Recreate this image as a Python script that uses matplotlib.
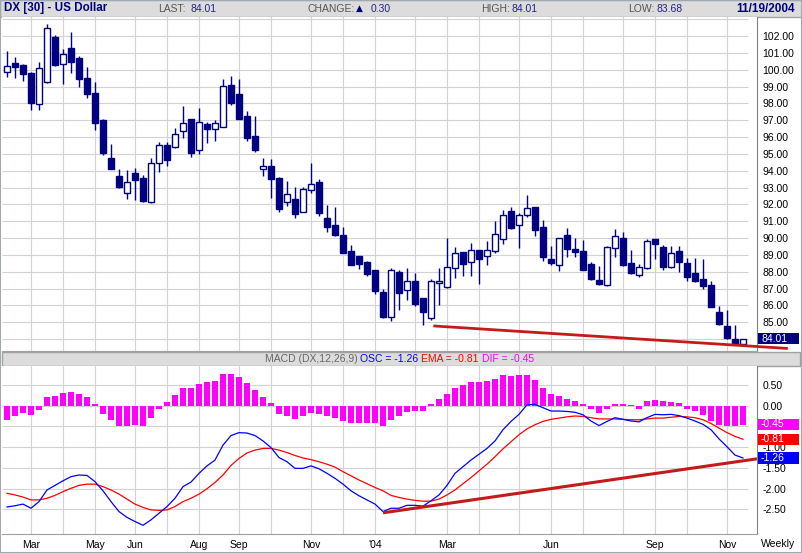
import matplotlib
matplotlib.use("Agg")
import matplotlib.pyplot as plt
from matplotlib.patches import Rectangle
import matplotlib.transforms as mtransforms
import numpy as np
import pandas as pd

plt.rcParams['font.family'] = ['Liberation Sans', 'DejaVu Sans']

# ---------------- data ----------------
dates = pd.date_range('2003-02-14', periods=93, freq='W-FRI')

opens = [99.85, 100.39, 100.27, 99.81, 97.95, 99.26, 101.95, 100.37, 101.30, 100.70,
         99.52, 98.62, 97.02, 94.76, 93.67, 92.66, 93.87, 93.57, 92.13, 94.44,
         95.53, 95.40, 96.35, 97.08, 95.22, 96.78, 96.50, 96.62, 99.10, 98.56,
         97.26, 96.07, 94.09, 94.27, 93.57, 92.13, 92.31, 91.57, 92.84, 93.34,
         91.20, 90.78, 90.19, 89.22, 88.94, 88.58, 88.11, 86.78, 85.30, 87.97,
         86.90, 87.45, 86.44, 85.24, 87.31, 87.08, 88.21, 89.18, 88.56, 89.28,
         88.92, 89.22, 89.95, 91.59, 90.76, 91.36, 91.85, 90.64, 88.76, 88.39,
         90.19, 89.35, 89.24, 88.48, 87.51, 87.20, 89.39, 89.99, 88.50, 87.83,
         88.21, 89.93, 89.45, 88.27, 89.22, 88.52, 87.91, 87.55, 87.24, 85.61,
         84.76, 84.01, 83.71]
highs = [101.12, 100.76, 100.35, 99.89, 100.45, 102.74, 102.09, 101.24, 102.25, 100.80,
         100.17, 99.28, 97.10, 95.59, 94.13, 94.03, 94.17, 93.73, 94.76, 95.69,
         95.71, 96.54, 97.85, 97.10, 97.73, 96.92, 97.02, 99.46, 99.63, 99.46,
         97.55, 97.26, 94.76, 94.70, 93.63, 93.40, 93.04, 93.04, 94.46, 93.51,
         91.97, 91.87, 90.66, 89.59, 88.96, 88.62, 88.13, 86.96, 88.22, 88.13,
         88.21, 87.91, 86.46, 87.57, 88.21, 89.99, 89.49, 89.20, 89.69, 89.30,
         89.81, 91.04, 91.67, 91.85, 91.49, 92.56, 91.87, 91.06, 89.53, 90.02,
         90.58, 89.99, 89.89, 88.56, 88.34, 89.55, 90.54, 90.35, 89.28, 88.44,
         89.93, 89.95, 89.59, 89.55, 89.55, 88.80, 88.84, 88.76, 87.45, 85.97,
         85.73, 84.84, 84.01]
lows = [99.57, 99.53, 99.36, 97.63, 97.63, 99.22, 100.23, 99.18, 99.83, 98.98,
        98.35, 96.45, 94.92, 94.10, 93.00, 92.35, 92.29, 92.17, 92.10, 93.91,
        94.31, 95.38, 95.97, 94.84, 95.02, 95.67, 95.79, 96.60, 97.91, 97.06,
        95.79, 95.14, 93.71, 92.40, 91.57, 91.93, 91.20, 91.53, 92.70, 91.34,
        90.36, 90.15, 89.10, 88.40, 88.17, 87.75, 86.68, 85.27, 85.10, 85.75,
        86.32, 85.97, 84.86, 85.12, 86.03, 87.06, 87.65, 87.77, 87.77, 87.29,
        88.42, 89.12, 89.67, 90.54, 89.43, 91.24, 90.15, 88.62, 88.42, 88.07,
        88.90, 88.90, 88.10, 87.51, 87.24, 87.18, 88.90, 88.36, 87.89, 87.71,
        88.19, 88.74, 88.11, 88.25, 88.01, 87.45, 87.41, 86.98, 85.91, 84.86,
        84.03, 83.65, 83.68]
closes = [100.23, 100.19, 99.77, 98.05, 100.09, 102.47, 100.31, 100.92, 100.49, 99.48,
          98.58, 96.84, 95.06, 94.13, 93.06, 93.34, 93.47, 92.19, 94.44, 95.53,
          94.66, 96.17, 96.82, 95.08, 96.90, 96.50, 96.82, 99.02, 98.03, 97.08,
          95.97, 95.26, 94.27, 93.49, 91.75, 92.60, 91.45, 92.90, 93.20, 91.51,
          90.68, 90.21, 89.12, 88.42, 88.48, 87.89, 86.88, 85.33, 88.10, 86.76,
          87.45, 86.11, 85.63, 87.43, 87.45, 88.27, 89.10, 88.48, 89.28, 88.78,
          89.28, 90.23, 91.36, 90.62, 91.36, 91.77, 90.48, 88.90, 88.54, 89.99,
          89.37, 89.16, 88.13, 87.57, 87.26, 89.45, 90.11, 88.40, 87.91, 88.27,
          89.81, 89.63, 88.30, 89.10, 88.56, 87.71, 87.45, 87.16, 85.93, 84.92,
          84.05, 83.71, 84.01]

osc = [-2.44, -2.41, -2.37, -2.47, -2.31, -2.03, -1.92, -1.81, -1.71, -1.67,
       -1.68, -1.83, -2.05, -2.31, -2.55, -2.69, -2.79, -2.88, -2.75, -2.59,
       -2.43, -2.23, -1.95, -1.84, -1.63, -1.45, -1.31, -0.95, -0.72, -0.65,
       -0.66, -0.72, -0.85, -1.01, -1.25, -1.35, -1.51, -1.51, -1.45, -1.52,
       -1.63, -1.75, -1.89, -2.05, -2.17, -2.27, -2.37, -2.55, -2.47, -2.47,
       -2.40, -2.40, -2.42, -2.29, -2.15, -1.92, -1.63, -1.47, -1.31, -1.17,
       -1.03, -0.85, -0.58, -0.38, -0.21, 0.02, 0.03, -0.05, -0.13, -0.13,
       -0.14, -0.16, -0.22, -0.37, -0.48, -0.38, -0.29, -0.33, -0.37, -0.39,
       -0.29, -0.21, -0.22, -0.21, -0.24, -0.30, -0.37, -0.45, -0.58, -0.80,
       -0.99, -1.19, -1.26]
ema = [-2.11, -2.15, -2.20, -2.27, -2.27, -2.23, -2.16, -2.07, -1.99, -1.92,
       -1.89, -1.89, -1.95, -2.03, -2.13, -2.25, -2.37, -2.45, -2.51, -2.52,
       -2.51, -2.43, -2.31, -2.23, -2.13, -2.00, -1.85, -1.67, -1.44, -1.27,
       -1.14, -1.07, -1.03, -1.03, -1.07, -1.13, -1.20, -1.26, -1.30, -1.35,
       -1.41, -1.48, -1.59, -1.69, -1.79, -1.88, -1.97, -2.05, -2.16, -2.21,
       -2.25, -2.28, -2.30, -2.30, -2.25, -2.15, -2.03, -1.88, -1.73, -1.57,
       -1.41, -1.23, -1.04, -0.87, -0.70, -0.56, -0.46, -0.38, -0.33, -0.30,
       -0.27, -0.25, -0.26, -0.29, -0.32, -0.32, -0.32, -0.33, -0.34, -0.34,
       -0.32, -0.30, -0.30, -0.28, -0.26, -0.27, -0.29, -0.34, -0.43, -0.54,
       -0.65, -0.74, -0.81]
dif = [-0.34, -0.24, -0.17, -0.22, -0.10, 0.21, 0.23, 0.30, 0.33, 0.28,
       0.21, 0.04, -0.19, -0.34, -0.48, -0.50, -0.46, -0.48, -0.29, -0.07,
       0.09, 0.26, 0.42, 0.42, 0.52, 0.57, 0.59, 0.76, 0.76, 0.69,
       0.55, 0.38, 0.21, 0.07, -0.19, -0.24, -0.31, -0.26, -0.17, -0.19,
       -0.26, -0.29, -0.36, -0.41, -0.41, -0.41, -0.43, -0.50, -0.34, -0.26,
       -0.15, -0.14, -0.14, 0.04, 0.16, 0.28, 0.42, 0.50, 0.57, 0.57,
       0.60, 0.64, 0.74, 0.72, 0.74, 0.74, 0.62, 0.42, 0.28, 0.22,
       0.16, 0.11, 0.04, -0.09, -0.18, -0.07, 0.05, 0.04, 0.02, -0.07,
       0.10, 0.14, 0.10, 0.09, 0.065, -0.07, -0.12, -0.22, -0.36, -0.47,
       -0.49, -0.49, -0.47]

price_ticks = [85, 86, 87, 88, 89, 90, 91, 92, 93, 94, 95, 96, 97, 98, 99, 100, 101, 102]
macd_grid = [0.5, 0.0, -0.5, -1.0, -1.5, -2.0, -2.5]
macd_ticks = [0.5, 0.0, -1.0, -1.5, -2.0, -2.5]   # -0.50 is hidden behind the DIF box
label_months = ['2003-03', '2003-05', '2003-06', '2003-08', '2003-09', '2003-11',
                '2004-01', '2004-03', '2004-06', '2004-09', '2004-11']
month_labels = ['Mar', 'May', 'Jun', 'Aug', 'Sep', 'Nov', "'04", 'Mar', 'Jun', 'Sep', 'Nov']

# trend lines (index, value)
trend_price_x = [53.3, 97.6]
trend_price_y = [84.78, 83.44]
trend_macd_x = [47.0, 93.75]
trend_macd_y = [-2.58, -1.28]

last_price = 84.01
osc_last, ema_last, dif_last = -1.26, -0.81, -0.45

# ---------------- figure ----------------
W, H = 802, 553
fig = plt.figure(figsize=(W / 100, H / 100), dpi=100)
fig.patch.set_facecolor('white')

def fx(x):
    return x / W

def fy(y):
    return 1 - y / H

NAVY = '#000080'
GRID = '#d2d2d2'
BAND = '#dcdcdc'
BORDER = '#a0a0a0'

# header band
fig.add_artist(Rectangle((0, fy(17)), 1, 17 / H, transform=fig.transFigure,
                         fc=BAND, ec=BORDER, lw=1, zorder=0))
# macd band
fig.add_artist(Rectangle((fx(2), fy(366)), 798 / W, 14 / H, transform=fig.transFigure,
                         fc=BAND, ec=BORDER, lw=1, zorder=0))

x = np.arange(len(closes))
xlim = (-0.625, 93.75)
grid_end = 92.6

month_start = [i for i in range(1, len(dates)) if dates[i].month != dates[i - 1].month]

# ---------------- price panel ----------------
ax1 = fig.add_axes([fx(2), fy(351), 755 / W, (351 - 17) / H])
ax1.set_xlim(*xlim)
ax1.set_ylim(83.29, 103.14)
for i in month_start:
    ax1.axvline(i, color=GRID, lw=0.8, zorder=0)
ax1.hlines(np.arange(84, 104), xlim[0], grid_end, color=GRID, lw=0.8, zorder=0)

o = np.array(opens); h = np.array(highs); l = np.array(lows); c = np.array(closes)
ax1.vlines(x, l, h, color=NAVY, lw=1.0, zorder=2)
up = c >= o
bot = np.minimum(o, c)
hgt = np.maximum(np.abs(c - o), 0.08)
ax1.bar(x[up], hgt[up], bottom=bot[up], width=0.72, facecolor='white',
        edgecolor=NAVY, linewidth=1.0, zorder=3)
ax1.bar(x[~up], hgt[~up], bottom=bot[~up], width=0.72, facecolor=NAVY,
        edgecolor=NAVY, linewidth=1.0, zorder=3)

ax1.plot(trend_price_x, trend_price_y, color='#c41a1a', lw=2.0, zorder=4,
         clip_on=False, solid_capstyle='butt')

ax1.yaxis.tick_right()
ax1.set_yticks(price_ticks)
ax1.set_yticklabels([f'{v:.2f}' for v in price_ticks])
ax1.tick_params(axis='y', length=0, pad=4, labelsize=7.5, labelcolor='black')
ax1.set_xticks([])
for s in ['left', 'top']:
    ax1.spines[s].set_visible(False)
ax1.spines['right'].set_color('#808080')
ax1.spines['bottom'].set_color(BORDER)

tr1 = mtransforms.blended_transform_factory(ax1.transAxes, ax1.transData)
bx0 = (758 - 2) / 755
bw = 41 / 755
ph = 11 / 16.83
ax1.add_patch(Rectangle((bx0, last_price - ph / 2), bw, ph, transform=tr1,
                        fc=NAVY, ec='none', clip_on=False, zorder=6))
ax1.text((761 - 2) / 755, last_price, f'{last_price:.2f}', transform=tr1, color='white',
         fontsize=7.5, va='center', ha='left', clip_on=False, zorder=7)

# ---------------- MACD panel ----------------
ax2 = fig.add_axes([fx(2), fy(534), 755 / W, (534 - 366) / H])
ax2.set_xlim(*xlim)
ax2.set_ylim(-3.09, 0.954)
for i in month_start:
    ax2.axvline(i, color=GRID, lw=0.8, zorder=0)
ax2.hlines(macd_grid, xlim[0], grid_end, color=GRID, lw=0.8, zorder=0)

ax2.bar(x, dif, width=0.72, color='#ff00ff', zorder=2)
ax2.plot(x, ema, color='#ff0000', lw=0.9, zorder=3)
ax2.plot(x, osc, color='#0000ff', lw=0.9, zorder=3)
ax2.plot(trend_macd_x, trend_macd_y, color='#c41a1a', lw=2.2, zorder=4,
         solid_capstyle='butt')

ax2.yaxis.tick_right()
ax2.set_yticks(macd_ticks)
ax2.set_yticklabels([f'{v:.2f}' for v in macd_ticks])
ax2.tick_params(axis='y', length=0, pad=4, labelsize=7.5, labelcolor='black')

tick_pos = []
for m in label_months:
    idx = [i for i in range(len(dates)) if dates[i].strftime('%Y-%m') == m][0]
    tick_pos.append(idx)
ax2.set_xticks(tick_pos)
ax2.set_xticklabels(month_labels)
ax2.tick_params(axis='x', length=0, pad=4, labelsize=7.5)
for s in ['left', 'top']:
    ax2.spines[s].set_visible(False)
ax2.spines['right'].set_color('#808080')
ax2.spines['bottom'].set_color(BORDER)

tr2 = mtransforms.blended_transform_factory(ax2.transAxes, ax2.transData)
mh = 11.5 / 41.6
for val, col in [(dif_last, '#ff00ff'), (ema_last, '#ff0000'), (osc_last, '#0000ff')]:
    ax2.add_patch(Rectangle((bx0, val - mh / 2), bw, mh, transform=tr2,
                            fc=col, ec='none', clip_on=False, zorder=6))
    ax2.text((761 - 2) / 755, val, f'{val:.2f}', transform=tr2, color='white',
             fontsize=7.5, va='center', ha='left', clip_on=False, zorder=7)

# ---------------- texts ----------------
def ftxt(px, py, s, **kw):
    fig.text(fx(px), fy(py), s, va='center', ha='left', **kw)

LBL = '#555555'
VAL = '#22228a'
ftxt(4, 8.5, 'DX [30] - US Dollar', fontsize=8.4, fontweight='bold', color=NAVY)
ftxt(158, 8.5, 'LAST:', fontsize=7.5, color=LBL)
ftxt(190.5, 8.5, '84.01', fontsize=7.5, color=VAL)
ftxt(307, 8.5, 'CHANGE:', fontsize=7.5, color=LBL)
ftxt(356, 8.0, '\u25B2', fontsize=6.5, color=NAVY, family=['DejaVu Sans'])
ftxt(371, 8.5, '0.30', fontsize=7.5, color=VAL)
ftxt(481.5, 8.5, 'HIGH:', fontsize=7.5, color=LBL)
ftxt(511.5, 8.5, '84.01', fontsize=7.5, color=VAL)
ftxt(628.5, 8.5, 'LOW:', fontsize=7.5, color=LBL)
ftxt(656.5, 8.5, '83.68', fontsize=7.5, color=VAL)
ftxt(736, 8.5, '11/19/2004', fontsize=8.5, fontweight='bold', color=NAVY)

ftxt(265, 359.5, 'MACD (DX,12,26,9)', fontsize=7.5, color='#666666')
ftxt(360, 359.5, f'OSC = {osc_last:.2f}', fontsize=7.5, color='#0000ff')
ftxt(421, 359.5, f'EMA = {ema_last:.2f}', fontsize=7.5, color='#ff0000')
ftxt(482, 359.5, f'DIF = {dif_last:.2f}', fontsize=7.5, color='#ff00ff')

ftxt(761, 544, 'Weekly', fontsize=7.5, color='black')

# outer border
fig.add_artist(Rectangle((0, 0), 1, 1, transform=fig.transFigure, fill=False,
                         ec='#a0a8b0', lw=1.5, zorder=10))

fig.savefig('out.png', dpi=100)
